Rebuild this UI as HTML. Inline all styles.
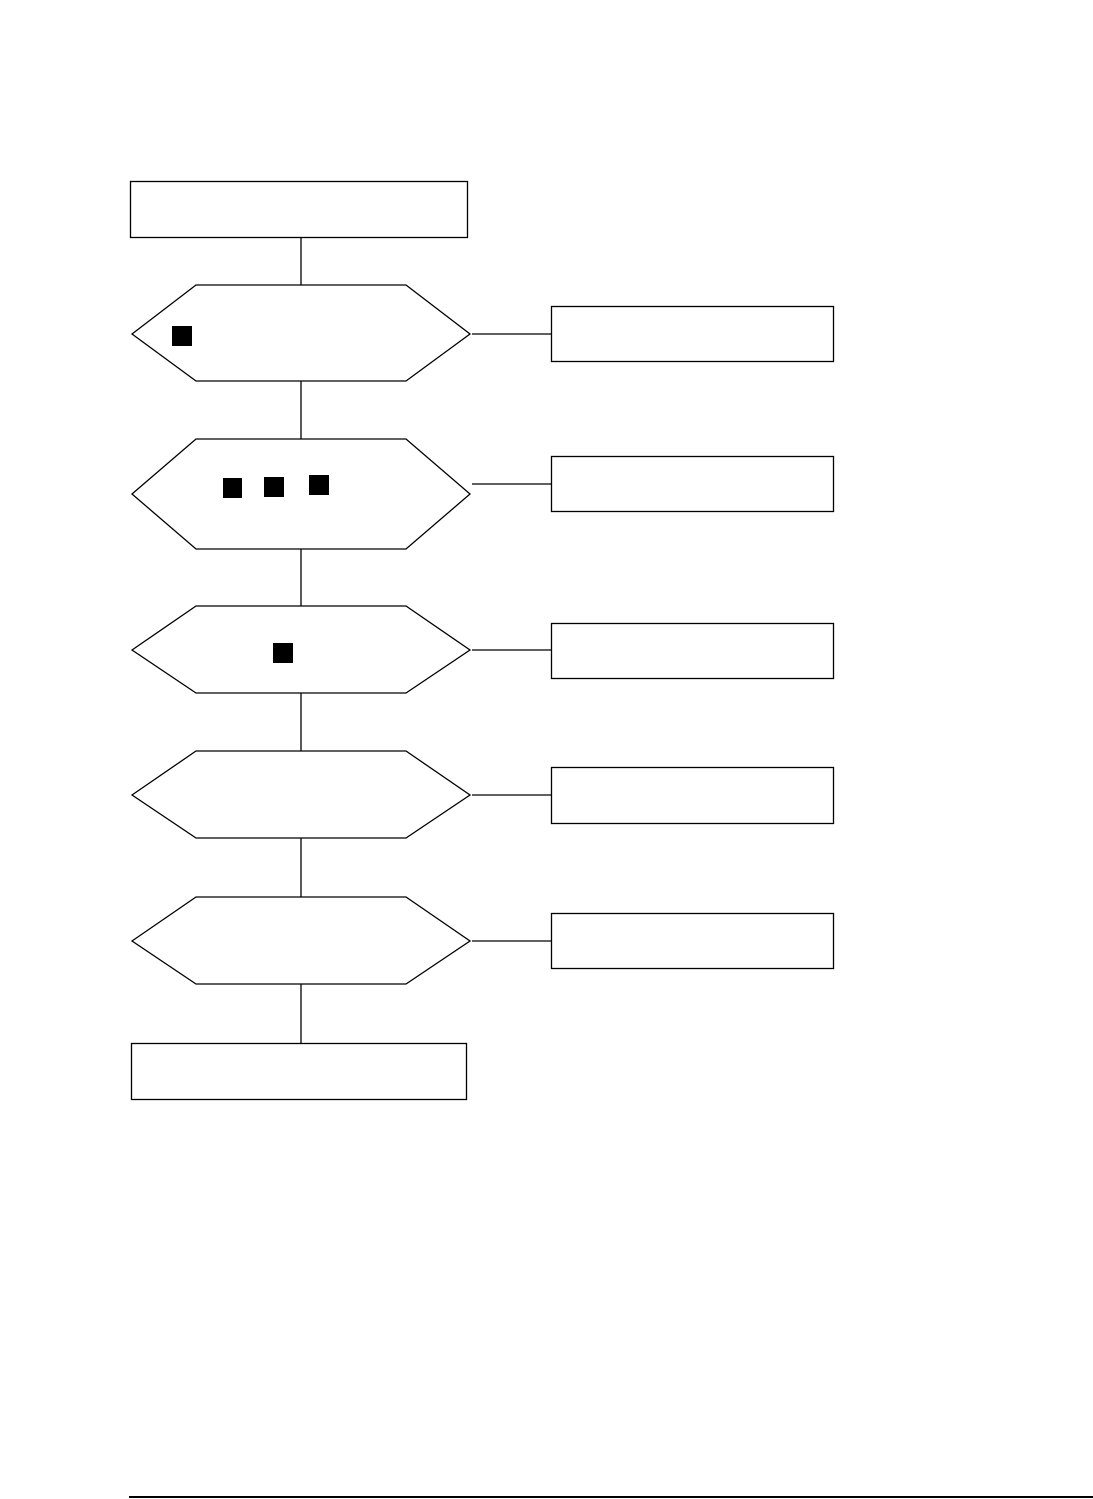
<!DOCTYPE html>
<html><head><meta charset="utf-8"><style>html,body{margin:0;padding:0;background:#fff}svg{display:block}</style></head>
<body>
<svg width="1093" height="1499" viewBox="0 0 1093 1499" xmlns="http://www.w3.org/2000/svg">
<g fill="none" stroke="#000" stroke-width="1.3">
<rect x="130.5" y="181.5" width="337" height="56"/>
<line x1="301" y1="237" x2="301" y2="285"/>
<polygon points="132,334 196,285 406,285 470,334 406,381 196,381" fill="#fff"/>
<line x1="301" y1="381" x2="301" y2="439"/>
<polygon points="132,494 196,439 406,439 470,494 406,549 196,549" fill="#fff"/>
<line x1="301" y1="549" x2="301" y2="606"/>
<polygon points="132,650 196,606 406,606 470,650 406,693 196,693" fill="#fff"/>
<line x1="301" y1="693" x2="301" y2="751"/>
<polygon points="132,795 196,751 406,751 470,795 406,838 196,838" fill="#fff"/>
<line x1="301" y1="838" x2="301" y2="897"/>
<polygon points="132,941 196,897 406,897 470,941 406,984 196,984" fill="#fff"/>
<line x1="301" y1="984" x2="301" y2="1043"/>
<rect x="131.5" y="1043.5" width="335" height="56"/>
<rect x="551.5" y="306.5" width="282" height="55"/>
<rect x="551.5" y="456.5" width="282" height="55"/>
<rect x="551.5" y="623.5" width="282" height="55"/>
<rect x="551.5" y="767.5" width="282" height="56"/>
<rect x="551.5" y="913.5" width="282" height="55"/>
<line x1="472" y1="334" x2="551" y2="334"/>
<line x1="472" y1="484" x2="551" y2="484"/>
<line x1="472" y1="650" x2="551" y2="650"/>
<line x1="472" y1="795" x2="551" y2="795"/>
<line x1="472" y1="941" x2="551" y2="941"/>
</g>
<g fill="#000">
<rect x="172" y="326" width="20" height="20"/>
<rect x="223" y="478" width="19" height="20"/>
<rect x="264" y="477" width="20" height="20"/>
<rect x="309" y="475" width="20" height="20"/>
<rect x="273" y="643" width="20" height="20"/>
<rect x="129" y="1496" width="964" height="2"/>
</g>
</svg>
</body></html>
